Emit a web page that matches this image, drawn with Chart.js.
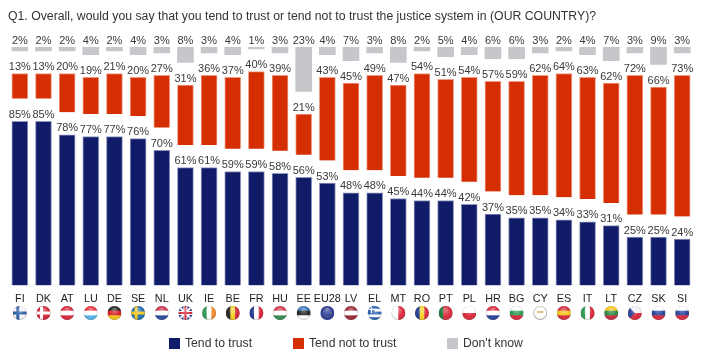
<!DOCTYPE html>
<html>
<head>
<meta charset="utf-8">
<style>
  html, body { margin: 0; padding: 0; background: #fff; }
  canvas { display: block; }
</style>
<script src="https://cdn.jsdelivr.net/npm/chart.js@4"></script>
</head>
<body>
<canvas id="chart" width="701" height="361"></canvas>
<script>
const titleText = "Q1. Overall, would you say that you tend to trust or tend not to trust the justice system in (OUR COUNTRY)?";
const categories = ["FI","DK","AT","LU","DE","SE","NL","UK","IE","BE","FR","HU","EE","EU28","LV","EL","MT","RO","PT","PL","HR","BG","CY","ES","IT","LT","CZ","SK","SI"];
const trust    = [85,85,78,77,77,76,70,61,61,59,59,58,56,53,48,48,45,44,44,42,37,35,35,34,33,31,25,25,24];
const notTrust = [13,13,20,19,21,20,27,31,36,37,40,39,21,43,45,49,47,54,51,54,57,59,62,64,63,62,72,66,73];
const dontKnow = [2,2,2,4,2,4,3,8,3,4,1,3,23,4,7,3,8,2,5,4,6,6,3,2,4,7,3,9,3];

// empty room between the three blocks of each column
const gap = 11.7;
const spacer = categories.map(() => gap);

// where each legend entry starts
const legendStart = [169, 293, 447];

// flag of each country: h = horizontal stripes, v = vertical stripes, c = nordic cross
const flags = {
  FI: ["c","#f4f6fa","#2a5aa0"], DK: ["c","#d2263a","#ffffff"], AT: ["h","#d8283a","#ffffff","#d8283a"],
  LU: ["h","#e8303c","#ffffff","#55b5e8"], DE: ["h","#222222","#d81f26","#f5c518"], SE: ["c","#1f6db0","#f5c518"],
  NL: ["h","#c8304a","#ffffff","#2a4a98"], UK: ["u"], IE: ["v","#2a9a50","#ffffff","#ef8a2a"],
  BE: ["v","#222222","#f5d020","#d8283a"], FR: ["v","#1f3a90","#ffffff","#d8283a"], HU: ["h","#d0384a","#ffffff","#3a8a50"],
  EE: ["h","#3a78b8","#222222","#ffffff"], EU28: ["e"], LV: ["h","#9a2838","#ffffff","#9a2838"],
  EL: ["g"], MT: ["v","#ffffff","#d8283a"], RO: ["v","#1f3a90","#f5d020","#d8283a"],
  PT: ["v","#1f7a3a","#d8283a","#d8283a"], PL: ["h","#ffffff","#d8283a"], HR: ["h","#d8283a","#ffffff","#24409a"],
  BG: ["h","#ffffff","#2a9a50","#d8283a"], CY: ["y"], ES: ["h","#d8283a","#f5c518","#d8283a"],
  IT: ["v","#2a9a50","#ffffff","#d8283a"], LT: ["h","#f5c518","#2a8a40","#c8283a"], CZ: ["z"],
  SK: ["h","#ffffff","#24409a","#d8283a"], SI: ["h","#ffffff","#24409a","#d8283a"]
};

function drawFlag(c, x, y, r, f) {
  c.save();
  c.beginPath();
  c.arc(x, y, r, 0, Math.PI * 2);
  c.clip();
  c.fillStyle = "#ffffff";
  c.fillRect(x - r, y - r, r * 2, r * 2);
  const kind = f[0], cols = f.slice(1);
  if (kind === "h") {
    cols.forEach((col, i) => {
      c.fillStyle = col;
      c.fillRect(x - r, y - r + i * 2 * r / cols.length, 2 * r, 2 * r / cols.length + 0.5);
    });
  } else if (kind === "v") {
    cols.forEach((col, i) => {
      c.fillStyle = col;
      c.fillRect(x - r + i * 2 * r / cols.length, y - r, 2 * r / cols.length + 0.5, 2 * r);
    });
  } else if (kind === "c") {
    c.fillStyle = cols[0];
    c.fillRect(x - r, y - r, 2 * r, 2 * r);
    c.fillStyle = cols[1];
    c.fillRect(x - r, y - 1.5, 2 * r, 3);
    c.fillRect(x - 3.5, y - r, 3, 2 * r);
  } else if (kind === "u") {
    c.fillStyle = "#2a3a88";
    c.fillRect(x - r, y - r, 2 * r, 2 * r);
    c.strokeStyle = "#ffffff";
    c.lineWidth = 2;
    c.beginPath();
    c.moveTo(x - r, y - r); c.lineTo(x + r, y + r);
    c.moveTo(x + r, y - r); c.lineTo(x - r, y + r);
    c.stroke();
    c.fillStyle = "#ffffff";
    c.fillRect(x - r, y - 2, 2 * r, 4);
    c.fillRect(x - 2, y - r, 4, 2 * r);
    c.fillStyle = "#d8283a";
    c.fillRect(x - r, y - 1, 2 * r, 2);
    c.fillRect(x - 1, y - r, 2, 2 * r);
  } else if (kind === "e") {
    c.fillStyle = "#2a3a98";
    c.fillRect(x - r, y - r, 2 * r, 2 * r);
    c.strokeStyle = "#8a8f50";
    c.lineWidth = 1;
    c.setLineDash([1, 1.5]);
    c.beginPath();
    c.arc(x, y, r * 0.55, 0, Math.PI * 2);
    c.stroke();
  } else if (kind === "g") {
    c.fillStyle = "#2a62b8";
    for (let i = 0; i < 5; i += 2) c.fillRect(x - r, y - r + i * 2.8, 2 * r, 2.8);
    c.fillRect(x - r, y - r, r, r);
    c.fillStyle = "#ffffff";
    c.fillRect(x - r, y - r + 2.8, r, 1.2);
    c.fillRect(x - r * 0.55, y - r, 1.2, r);
  } else if (kind === "y") {
    c.strokeStyle = "#c8c8c0";
    c.beginPath();
    c.arc(x, y, r - 0.5, 0, Math.PI * 2);
    c.stroke();
    c.fillStyle = "#d8a860";
    c.fillRect(x - 3, y - 2, 6, 2);
  } else if (kind === "z") {
    c.fillStyle = "#f2f2f6";
    c.fillRect(x - r, y - r, 2 * r, r);
    c.fillStyle = "#d8283a";
    c.fillRect(x - r, y, 2 * r, r);
    c.fillStyle = "#24409a";
    c.beginPath();
    c.moveTo(x - r, y - r); c.lineTo(x, y); c.lineTo(x - r, y + r);
    c.fill();
  }
  // glossy shine of the little balls
  const shine = c.createRadialGradient(x, y - r * 0.5, 1, x, y, r);
  shine.addColorStop(0, "rgba(255,255,255,0.35)");
  shine.addColorStop(0.7, "rgba(255,255,255,0)");
  shine.addColorStop(1, "rgba(0,0,0,0.25)");
  c.fillStyle = shine;
  c.fillRect(x - r, y - r, 2 * r, 2 * r);
  c.restore();
}

const extras = {
  id: "extras",
  afterDatasetsDraw(chart) {
    const c = chart.ctx;
    c.save();
    c.font = "11px 'Liberation Sans'";
    c.fillStyle = "#3a3a3a";
    c.textAlign = "center";
    c.textBaseline = "bottom";
    chart.data.datasets.forEach((ds, i) => {
      if (ds.isGap) return;
      chart.getDatasetMeta(i).data.forEach((bar, j) => {
        c.fillText(ds.data[j] + "%", bar.x, bar.y - 1);
      });
    });

    // legend
    c.font = "12.2px 'Liberation Sans'";
    c.textAlign = "left";
    c.textBaseline = "middle";
    chart.data.datasets.filter(ds => !ds.isGap).forEach((ds, i) => {
      c.fillStyle = ds.backgroundColor;
      c.fillRect(legendStart[i], 338, 11, 11);
      c.fillStyle = "#333";
      c.fillText(ds.label, legendStart[i] + 16, 344);
    });
    c.restore();

    const xScale = chart.scales.x;
    categories.forEach((name, j) => {
      drawFlag(c, xScale.getPixelForValue(j), 313, 7, flags[name]);
    });
  }
};

new Chart(document.getElementById("chart"), {
  type: "bar",
  data: {
    labels: categories,
    datasets: [
      { label: "Tend to trust", data: trust, backgroundColor: "#111c68", borderColor: "#8f95bd", borderWidth: 1 },
      { label: "gap1", data: spacer, backgroundColor: "rgba(0,0,0,0)", isGap: true },
      { label: "Tend not to trust", data: notTrust, backgroundColor: "#d42e02", borderColor: "#f09c85", borderWidth: 1 },
      { label: "gap2", data: spacer, backgroundColor: "rgba(0,0,0,0)", isGap: true },
      { label: "Don't know", data: dontKnow, backgroundColor: "#c6c7ca" }
    ]
  },
  plugins: [extras],
  options: {
    responsive: false,
    animation: false,
    barThickness: 16,
    layout: { padding: { left: 8, right: 7, top: 0, bottom: 0 } },
    scales: {
      x: {
        stacked: true,
        grid: { display: false, drawTicks: false },
        border: { display: false },
        afterFit(scale) { scale.height = 75.5; },
        ticks: { autoSkip: false, maxRotation: 0, padding: 7, color: "#222", font: { family: "'Liberation Sans'", size: 10.8 } }
      },
      y: { stacked: true, display: false, min: 0, max: 100 + 2 * gap }
    },
    plugins: {
      tooltip: { enabled: false },
      legend: { display: false },
      title: {
        display: true,
        text: titleText,
        align: "start",
        color: "#333",
        font: { family: "'Liberation Sans'", size: 12.27, weight: "normal" },
        padding: { top: 9, bottom: 23.3 }
      }
    }
  }
});
</script>
</body>
</html>
